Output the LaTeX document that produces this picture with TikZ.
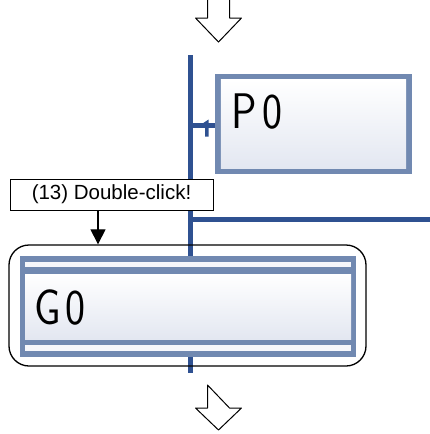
\documentclass[tikz,border=0pt]{standalone}
\usepackage{fontspec}
\setmainfont{Liberation Sans}
\usetikzlibrary{arrows.meta}
\definecolor{busblue}{HTML}{2F5191}
\definecolor{boxblue}{HTML}{7189B1}
\definecolor{gradbot}{HTML}{E3E7F1}
\definecolor{bandwhite}{HTML}{F6F7FB}
\tikzset{
  bus/.style={draw=busblue, line width=5pt},
  bigarrow/.style={draw=black, fill=white, line width=1pt, line join=round},
  steptext/.style={font=\sffamily\fontsize{50}{50}\selectfont, inner sep=0pt, anchor=base west, xscale=0.85},
  callout/.style={draw=black, line width=0.9pt, fill=white, inner sep=0pt,
    minimum width=203pt, minimum height=31pt, font=\fontsize{20.5}{20.5}\selectfont},
  calloutarrow/.style={draw=black, line width=1.1pt, -{Triangle[width=15pt,length=15pt]}},
  groupframe/.style={draw=black, line width=1.3pt, rounded corners=20pt, inner sep=0pt,
    minimum width=357pt, minimum height=121pt},
}
\begin{document}
\begin{tikzpicture}[x=1pt,y=-1pt]
\useasboundingbox (0,0) rectangle (429,434);

% top big arrow
\draw[bigarrow] (207.5,0) -- (207.5,18) -- (195.5,18) -- (218.5,42) -- (241.5,18) -- (229.5,18) -- (229.5,0);

% bus
\coordinate (bustop) at (190.5,55);
\coordinate (busbot) at (190.5,373);
\coordinate (branchL) at (190.5,219);
\coordinate (branchR) at (430,219);
\draw[bus] (bustop) -- (busbot);
\draw[bus] (branchL) -- (branchR);

% P0 step box
\node[draw=none, minimum width=197pt, minimum height=100pt, inner sep=0pt] (p0) at (313.5,124) {};
\fill[boxblue] (p0.north west) rectangle (p0.south east);
\shade[top color=white, bottom color=gradbot] ([xshift=6pt,yshift=-6pt]p0.north west) rectangle ([xshift=-6pt,yshift=6pt]p0.south east);
\node[steptext] (p0text) at (231,128) {P\hspace{7pt}0};
\coordinate (p0conn) at (190.5,125.5);
\draw[draw=busblue, line width=5pt] (p0conn) -- (p0.west |- p0conn);
\fill[busblue] (199.5,125.5) -- (208.5,119.5) -- (208.5,136.5) -- (205,136.5) -- (205,128) -- cycle;

% group frame
\node[groupframe] (grp) at (187.5,305.5) {};

% G0 step box
\node[draw=none, minimum width=336pt, minimum height=101pt, inner sep=0pt] (g0) at (188,306.5) {};
\fill[boxblue] (g0.north west) rectangle (g0.south east);
\fill[bandwhite] (25,262) rectangle (351,351);
\fill[boxblue] (25,267) rectangle (351,274);
\fill[boxblue] (25,339) rectangle (351,345);
\shade[top color=white, bottom color=gradbot] (25,274) rectangle (351,339);
\node[steptext] (g0text) at (34,324) {G\hspace{5pt}0};

% callout
\node[callout] (lbl) at (111.5,194.5) {(13) Double-click!};
\coordinate (lblfoot) at (98,210);
\draw[calloutarrow] (lblfoot) -- (lblfoot |- grp.north);

% bottom big arrow
\draw[bigarrow] (207.5,385) -- (207.5,408) -- (195.5,408) -- (218.5,430) -- (241.5,408) -- (229.5,408) -- cycle;
\end{tikzpicture}
\end{document}
